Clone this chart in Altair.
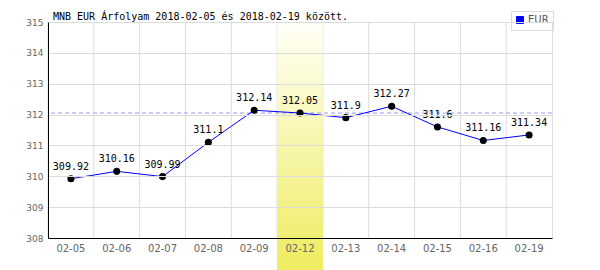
import altair as alt
import pandas as pd

dates = ["02-05", "02-06", "02-07", "02-08", "02-09", "02-12",
         "02-13", "02-14", "02-15", "02-16", "02-19"]
values = [309.92, 310.16, 309.99, 311.1, 312.14, 312.05,
          311.9, 312.27, 311.6, 311.16, 311.34]
series_name = "EUR"
highlight_date = "02-12"
ref_value = 312.05
y_ticks = [308, 309, 310, 311, 312, 313, 314, 315]
title_text = "MNB EUR Árfolyam 2018-02-05 és 2018-02-19 között."

df = pd.DataFrame({"date": dates, "value": values, "series": series_name})
df["label"] = [f"{v:g}" for v in values]
hl = pd.DataFrame({"date": [highlight_date]})
ref = pd.DataFrame({"value": [ref_value]})
grid_df = pd.DataFrame({"date": dates})

W, H = 504, 216
GRID = "#dcdcdc"

xscale = alt.Scale(domain=dates, paddingInner=0, paddingOuter=0)
yscale = alt.Scale(domain=[308, 315], nice=False, zero=False)

x_axis = alt.Axis(title=None, labelAngle=0, ticks=False, labelPadding=5,
                  domainColor="#000", labelFont="DejaVu Sans", labelFontSize=10,
                  labelColor="#666", grid=False, labelOverlap=False, zindex=1)
y_axis = alt.Axis(title=None, values=y_ticks, tickCount=8, ticks=False,
                  labelPadding=5, domainColor="#000",
                  labelFont="DejaVu Sans", labelFontSize=9,
                  labelColor="#666", grid=True, gridColor=GRID,
                  labelOverlap=False, labelFlush=False, zindex=1)

x_enc = alt.X("date:N", scale=xscale, sort=dates, axis=x_axis)
y_enc = alt.Y("value:Q", scale=yscale, axis=y_axis)

vgrid = alt.Chart(grid_df).mark_rule(color=GRID, strokeWidth=1).encode(
    x=alt.X("date:N", scale=xscale, sort=dates, axis=x_axis, bandPosition=0),
    y=alt.value(0), y2=alt.value(H)
)

highlight = alt.Chart(hl).mark_rect(
    color=alt.Gradient(gradient="linear", x1=0, x2=0, y1=0, y2=1,
                       stops=[alt.GradientStop(color="#fffff8", offset=0),
                              alt.GradientStop(color="#eeec5e", offset=1)])
).encode(
    x=x_enc,
    y=alt.value(0), y2=alt.value(248)
)

ref_rule = alt.Chart(ref).mark_rule(color="#9999ff", strokeDash=[4, 3], strokeWidth=1).encode(
    y=y_enc
)

line = alt.Chart(df).mark_line(strokeWidth=1).encode(
    x=x_enc, y=y_enc,
    color=alt.Color("series:N", scale=alt.Scale(domain=[series_name], range=["#0000ff"]),
                    legend=alt.Legend(title=None, orient="none", legendX=463, legendY=-11,
                                      symbolType="square", symbolSize=49,
                                      symbolFillColor="#0000ff", symbolStrokeColor="#000066",
                                      symbolStrokeWidth=1,
                                      labelFont="DejaVu Sans", labelFontSize=10,
                                      labelColor="#555", strokeColor=GRID,
                                      padding=4, labelOffset=3))
)

points = alt.Chart(df).mark_circle(size=50, color="#000", opacity=1).encode(
    x=x_enc, y=y_enc
)

labels = alt.Chart(df).mark_text(font="DejaVu Sans Mono", fontSize=10, color="#000",
                                 dy=-12, baseline="middle").encode(
    x=x_enc, y=y_enc,
    text="label:N"
)

chart = alt.layer(vgrid, highlight, ref_rule, line, points, labels).properties(
    width=W, height=H,
    title=alt.TitleParams(title_text, anchor="start", frame="group", dx=5, dy=13, offset=2,
                          font="DejaVu Sans Mono", fontSize=10, fontWeight="normal",
                          color="#000"),
    autosize=alt.AutoSizeParams(type="none"),
    padding={"left": 48, "top": 22, "right": 48, "bottom": 32},
).configure_view(stroke=GRID, strokeWidth=1).configure(background="white")

chart.save("out.html", embed_options={"renderer": "svg", "actions": False})
